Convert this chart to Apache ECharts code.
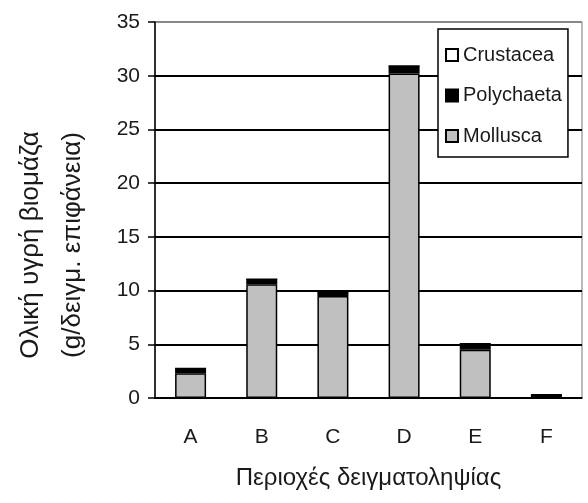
<!DOCTYPE html>
<html>
<head>
<meta charset="utf-8">
<title>Ολική υγρή βιομάζα</title>
<script src="https://cdn.jsdelivr.net/npm/echarts@6/dist/echarts.min.js"></script>
<style>
  html, body { margin: 0; padding: 0; background: #fff; }
  #main { width: 588px; height: 503px; }
</style>
</head>
<body>
<div id="main"></div>
<script>
// περιοχές δειγματοληψίας
var categories = ["A", "B", "C", "D", "E", "F"];
// βιομάζα ανά ομάδα (g/δειγμ. επιφάνεια)
var mollusca = [2.3, 10.6, 9.5, 30.2, 4.5, 0];
var polychaeta = [0.45, 0.45, 0.35, 0.7, 0.55, 0.3];
var crustacea = [0, 0, 0, 0, 0, 0];
var yTicks = [0, 5, 10, 15, 20, 25, 30, 35];

var font = "'Liberation Sans', Arial, sans-serif";
var ink = "#1a1a1a";

var myChart = echarts.init(document.getElementById("main"));

var option = {
    animation: false,
    backgroundColor: "#fff",
    grid: {
        left: 155,
        right: 6,
        top: 22,
        bottom: 105,
        show: true,
        borderColor: "#777",
        borderWidth: 1
    },
    legend: {
        orient: "vertical",
        left: 438,
        top: 29,
        data: ["Crustacea", "Polychaeta", "Mollusca"],
        icon: "rect",
        itemWidth: 12,
        itemHeight: 12,
        itemGap: 20.5,
        itemTextGap: 5,
        padding: [16, 6, 11, 7],
        backgroundColor: "#fff",
        borderColor: "#000",
        borderWidth: 1.5,
        textStyle: { fontFamily: font, fontSize: 20, color: ink }
    },
    xAxis: {
        type: "category",
        data: categories,
        name: "Περιοχές δειγματοληψίας",
        nameLocation: "middle",
        nameGap: 68,
        nameTextStyle: { fontFamily: font, fontSize: 24, color: ink },
        axisLine: { lineStyle: { color: "#000", width: 1.5 } },
        axisTick: { length: 8, lineStyle: { color: "#000", width: 1.5 } },
        axisLabel: { margin: 29, fontFamily: font, fontSize: 21, color: ink },
        splitLine: { show: false }
    },
    yAxis: {
        type: "value",
        min: yTicks[0],
        max: yTicks[yTicks.length - 1],
        interval: yTicks[1] - yTicks[0],
        axisLine: { show: true, lineStyle: { color: "#000", width: 1.5 } },
        axisTick: { show: true, length: 7, lineStyle: { color: "#000", width: 1.5 } },
        axisLabel: { margin: 15, fontFamily: font, fontSize: 21, color: ink },
        splitLine: {
            lineStyle: {
                color: ["#000", "#000", "#000", "#000", "#000", "#000", "#000", "#888"],
                width: 2
            }
        }
    },
    graphic: [
        {
            type: "text",
            x: 52,
            y: 245,
            rotation: Math.PI / 2,
            style: {
                text: "Ολική υγρή βιομάζα\n(g/δειγμ. επιφάνεια)",
                fontFamily: font,
                fontSize: 26,
                lineHeight: 42,
                fill: ink,
                textAlign: "center",
                textVerticalAlign: "middle"
            }
        }
    ],
    series: [
        {
            name: "Mollusca",
            type: "bar",
            stack: "total",
            barWidth: 31,
            data: mollusca,
            itemStyle: { color: "#c0c0c0", borderColor: "#000", borderWidth: 1.5 }
        },
        {
            name: "Polychaeta",
            type: "bar",
            stack: "total",
            barWidth: 31,
            data: polychaeta,
            itemStyle: { color: "#000", borderColor: "#000", borderWidth: 1.5 }
        },
        {
            name: "Crustacea",
            type: "bar",
            stack: "total",
            barWidth: 31,
            data: crustacea,
            itemStyle: { color: "#fff", borderColor: "#000", borderWidth: 1.5 }
        }
    ]
};

myChart.setOption(option);
</script>
</body>
</html>
